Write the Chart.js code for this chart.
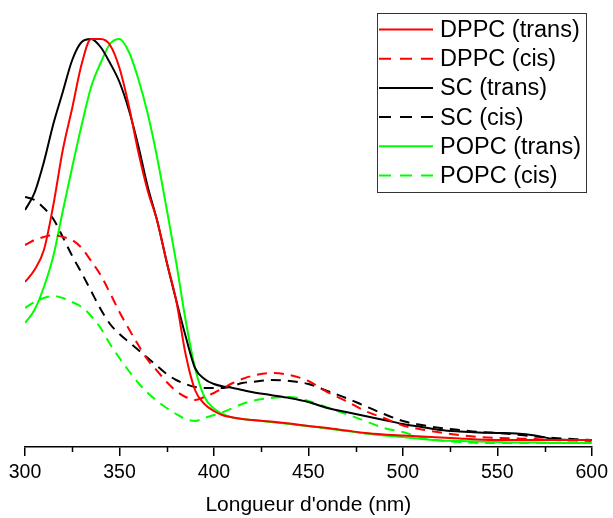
<!DOCTYPE html>
<html>
<head>
<meta charset="utf-8">
<script src="https://cdn.jsdelivr.net/npm/chart.js@4"></script>
<style>
  html, body { margin: 0; padding: 0; background: #fff; }
  #wrap { width: 613px; height: 518px; }
</style>
</head>
<body>
<div id="wrap"><canvas id="chartSpectre"></canvas></div>
<script>
// longueurs d'onde (nm)
const longueurs = [300, 305, 310, 315, 320, 325, 330, 335, 340, 345, 350, 355, 360, 365, 370, 375, 380, 385, 390, 395, 400, 405, 410, 415, 420,
  430, 440, 450, 460, 470, 480, 490, 500, 510, 520, 530, 540, 550, 560, 570, 580, 590, 600];

// absorbance (u.a.)
const dppcTrans = [165, 177, 197, 242, 297, 339, 383, 408, 408, 402, 379, 341, 295, 256, 226, 185, 147, 93, 57, 43, 36, 31.5, 29.5, 28, 27,
  25.5, 23.5, 21, 19, 16.5, 14, 12.5, 11.5, 10.5, 9.5, 8.5, 7.5, 7, 7, 7, 7, 7, 7];
const dppcCis = [202, 207, 210, 212, 210, 207, 199, 186, 172, 154, 135, 118, 102, 87, 76, 65, 56, 50, 47, 50, 54, 59, 64, 68, 71,
  74, 72, 66, 55, 46, 36, 29, 21.5, 17.5, 14.5, 12, 10, 9, 8.5, 8, 7, 6.5, 6];
const scTrans = [237, 254, 285, 323, 355, 387, 405, 408, 400, 384, 365, 337, 301, 260, 226, 185, 147, 111, 79, 68, 63, 60.5, 59, 57, 55,
  52, 49, 45, 39, 35, 31, 27, 23, 20, 17, 15.5, 14.5, 14, 13.5, 11.5, 8, 7, 7];
const scCis = [250, 247, 239, 228, 210, 191, 174, 156, 138, 123, 113, 105, 97, 89, 81, 73, 67, 63, 60, 59, 59, 59, 61, 64, 65,
  67, 66, 63, 56, 49, 41, 33, 26, 22, 19, 17, 15, 14, 12.5, 10.5, 9, 8, 7];
const popcTrans = [124, 137, 160, 191, 236, 280, 322, 360, 384, 403, 408, 395, 368, 333, 289, 238, 185, 127, 79, 50, 38.5, 32.5, 29.5, 28, 27,
  25, 23, 21, 18.5, 16, 13.5, 11.5, 10, 8, 6.5, 6, 5.5, 5, 4.5, 4.5, 4, 4, 4];
const popcCis = [139, 145, 149, 151, 149, 145, 140, 131, 119, 103, 89, 76, 64, 54, 46, 39, 33, 28, 26, 29, 32, 35, 39, 43, 46,
  49, 50, 46, 39.5, 33, 26, 19, 15, 9.5, 6.5, 5, 4, 4, 4, 4, 4, 4, 4];

const series = [
  { label: "DPPC (trans)", valeurs: dppcTrans, couleur: "#ff0000", tirets: [] },
  { label: "DPPC (cis)", valeurs: dppcCis, couleur: "#ff0000", tirets: [10, 7] },
  { label: "SC (trans)", valeurs: scTrans, couleur: "#000000", tirets: [] },
  { label: "SC (cis)", valeurs: scCis, couleur: "#000000", tirets: [10, 7] },
  { label: "POPC (trans)", valeurs: popcTrans, couleur: "#00ff00", tirets: [] },
  { label: "POPC (cis)", valeurs: popcCis, couleur: "#00ff00", tirets: [10, 7] }
];

const police = "'Liberation Sans', Arial, sans-serif";

// petites graduations entre les grandes
const petitesGraduations = {
  id: "petitesGraduations",
  afterDraw(chart) {
    const sx = chart.scales.x;
    const ctx = chart.ctx;
    ctx.save();
    ctx.strokeStyle = "#000";
    ctx.lineWidth = 1.5;
    for (let v = 325; v < 600; v += 50) {
      const px = Math.round(sx.getPixelForValue(v)) + 0.5;
      ctx.beginPath();
      ctx.moveTo(px, sx.top);
      ctx.lineTo(px, sx.top + 5);
      ctx.stroke();
    }
    ctx.restore();
  }
};

// légende encadrée dans le coin
const legendeCadre = {
  id: "legendeCadre",
  afterDraw(chart) {
    const ctx = chart.ctx;
    ctx.save();
    ctx.strokeStyle = "#333";
    ctx.lineWidth = 1;
    ctx.strokeRect(377.5, 13.5, 209, 179);
    ctx.font = "23.5px " + police;
    ctx.textBaseline = "middle";
    ctx.fillStyle = "#000";
    chart.data.datasets.forEach((ds, i) => {
      const y = 29.5 + i * 29.2;
      ctx.strokeStyle = ds.borderColor;
      ctx.lineWidth = 2;
      ctx.setLineDash(ds.borderDash.length ? [12, 9] : []);
      ctx.beginPath();
      ctx.moveTo(379, y);
      ctx.lineTo(433, y);
      ctx.stroke();
      ctx.setLineDash([]);
      ctx.fillText(ds.label, 440, y + 1);
    });
    ctx.restore();
  }
};

new Chart(document.getElementById("chartSpectre"), {
  type: "line",
  data: {
    datasets: series.map(s => ({
      label: s.label,
      data: longueurs.map((l, i) => ({ x: l, y: s.valeurs[i] })),
      borderColor: s.couleur,
      borderDash: s.tirets,
      borderWidth: 2,
      pointRadius: 0,
      fill: false,
      cubicInterpolationMode: "monotone"
    }))
  },
  options: {
    responsive: true,
    maintainAspectRatio: false,
    animation: false,
    layout: { padding: { left: 25, right: 18, top: 17, bottom: 0 } },
    plugins: {
      legend: { display: false },
      tooltip: { enabled: false }
    },
    scales: {
      x: {
        type: "linear",
        min: 300,
        max: 600,
        afterFit(scale) { scale.height = 71; },
        border: { display: true, color: "#000", width: 1.5 },
        grid: { drawOnChartArea: false, drawTicks: true, tickLength: 9, color: "#000", lineWidth: 1.5 },
        ticks: { stepSize: 50, color: "#000", padding: 5, font: { family: police, size: 19.5 } },
        title: {
          display: true,
          text: "Longueur d'onde (nm)",
          color: "#000",
          padding: { top: 0, bottom: 0 },
          font: { family: police, size: 21 }
        }
      },
      y: {
        display: false,
        min: 0,
        max: 430
      }
    }
  },
  plugins: [petitesGraduations, legendeCadre]
});
</script>
</body>
</html>
